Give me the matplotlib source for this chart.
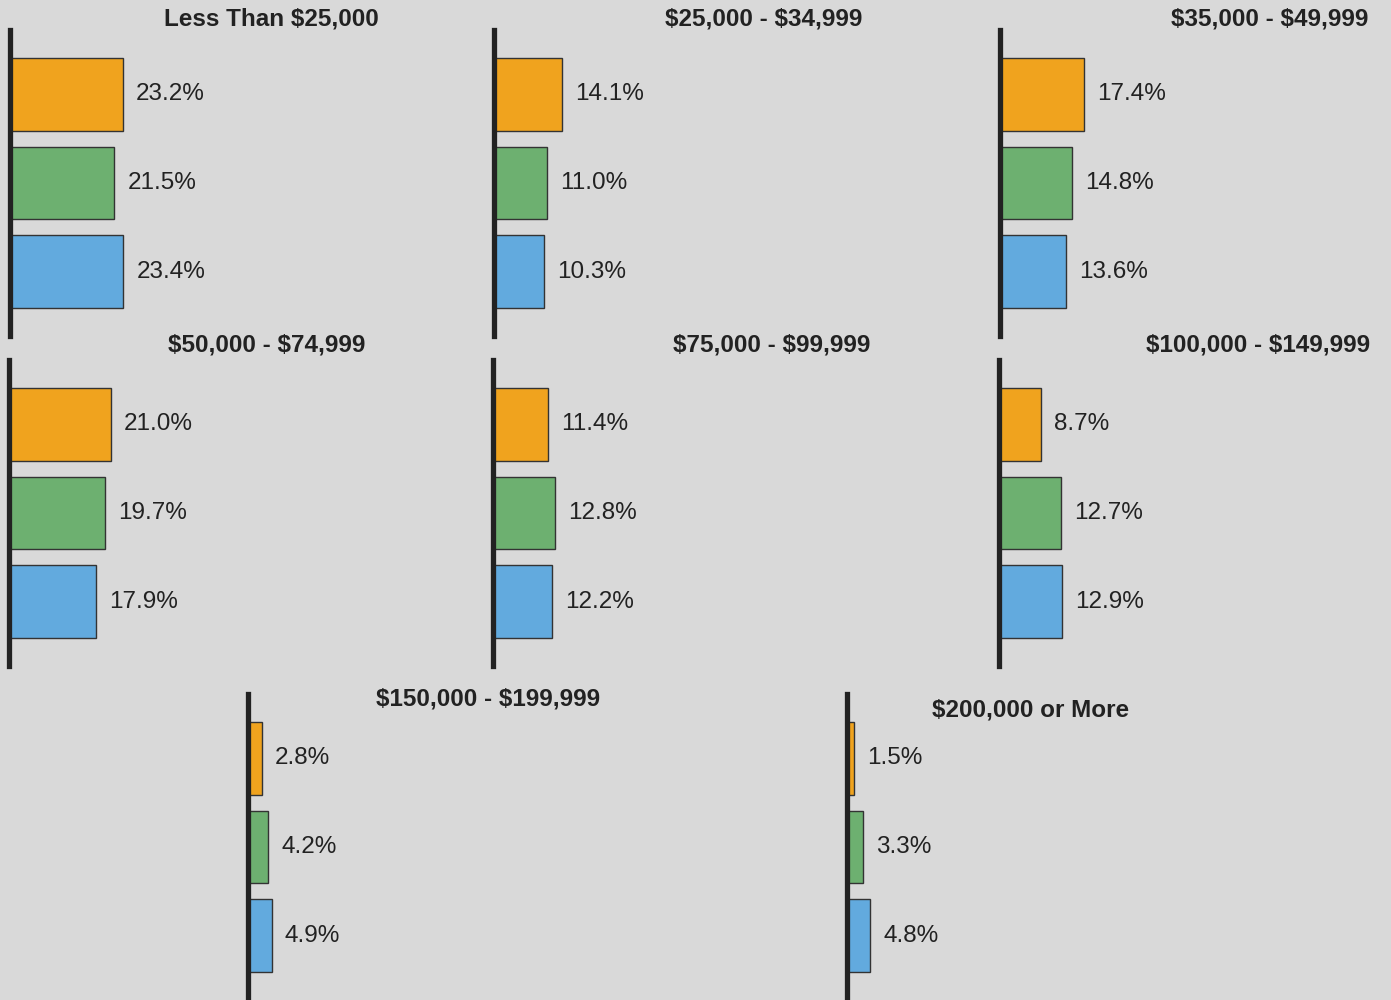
import matplotlib.pyplot as plt

plt.rcParams['font.family'] = ['Liberation Sans', 'DejaVu Sans']
plt.rcParams['text.parse_math'] = False

# income brackets and the three series (percent)
brackets = ['Less Than $25,000', '$25,000 - $34,999', '$35,000 - $49,999',
            '$50,000 - $74,999', '$75,000 - $99,999', '$100,000 - $149,999',
            '$150,000 - $199,999', '$200,000 or More']
orange_vals = [23.2, 14.1, 17.4, 21.0, 11.4, 8.7, 2.8, 1.5]
green_vals = [21.5, 11.0, 14.8, 19.7, 12.8, 12.7, 4.2, 3.3]
blue_vals = [23.4, 10.3, 13.6, 17.9, 12.2, 12.9, 4.9, 4.8]

colors = ['#F0A31E', '#6DB070', '#62AADE']
bg = '#D9D9D9'
ink = '#222222'

W, H = 1391, 1000
fig = plt.figure(figsize=(W / 100, H / 100), dpi=100, facecolor=bg)

# panel layout in pixels: (spine x, top y), title centre (x, y)
panels = [(10, 30), (494, 30), (1000, 30),
          (9, 360), (493, 360), (999, 360),
          (248, 694), (847, 694)]
titles_xy = [(271, 19), (764, 19), (1270, 19),
             (267, 345), (772, 345), (1258, 345),
             (488, 699), (1031, 710)]

ax_w, ax_h = 450, 306
for i, name in enumerate(brackets):
    x0, y0 = panels[i]
    ax = fig.add_axes([x0 / W, 1 - (y0 + ax_h) / H, ax_w / W, ax_h / H])
    ax.set_facecolor('none')
    vals = [orange_vals[i], green_vals[i], blue_vals[i]]
    ax.barh([0, 1, 2], vals, height=0.82, color=colors,
            edgecolor='#333333', linewidth=1)
    for y, v in enumerate(vals):
        ax.text(v + 2.7, y, f'{v:.1f}%', va='center', ha='left',
                fontsize=17.5, color=ink)
    ax.set_xlim(0, ax_w / 4.85)
    ax.set_ylim(2.72, -0.72)
    for s in ['top', 'right', 'bottom']:
        ax.spines[s].set_visible(False)
    ax.spines['left'].set_linewidth(3.8)
    ax.spines['left'].set_color(ink)
    ax.set_xticks([])
    ax.set_yticks([])
    tx, ty = titles_xy[i]
    fig.text(tx / W, 1 - ty / H, name, ha='center', va='center',
             fontsize=17.5, fontweight='bold', color=ink)

fig.savefig('out.png', dpi=100, facecolor=bg)
